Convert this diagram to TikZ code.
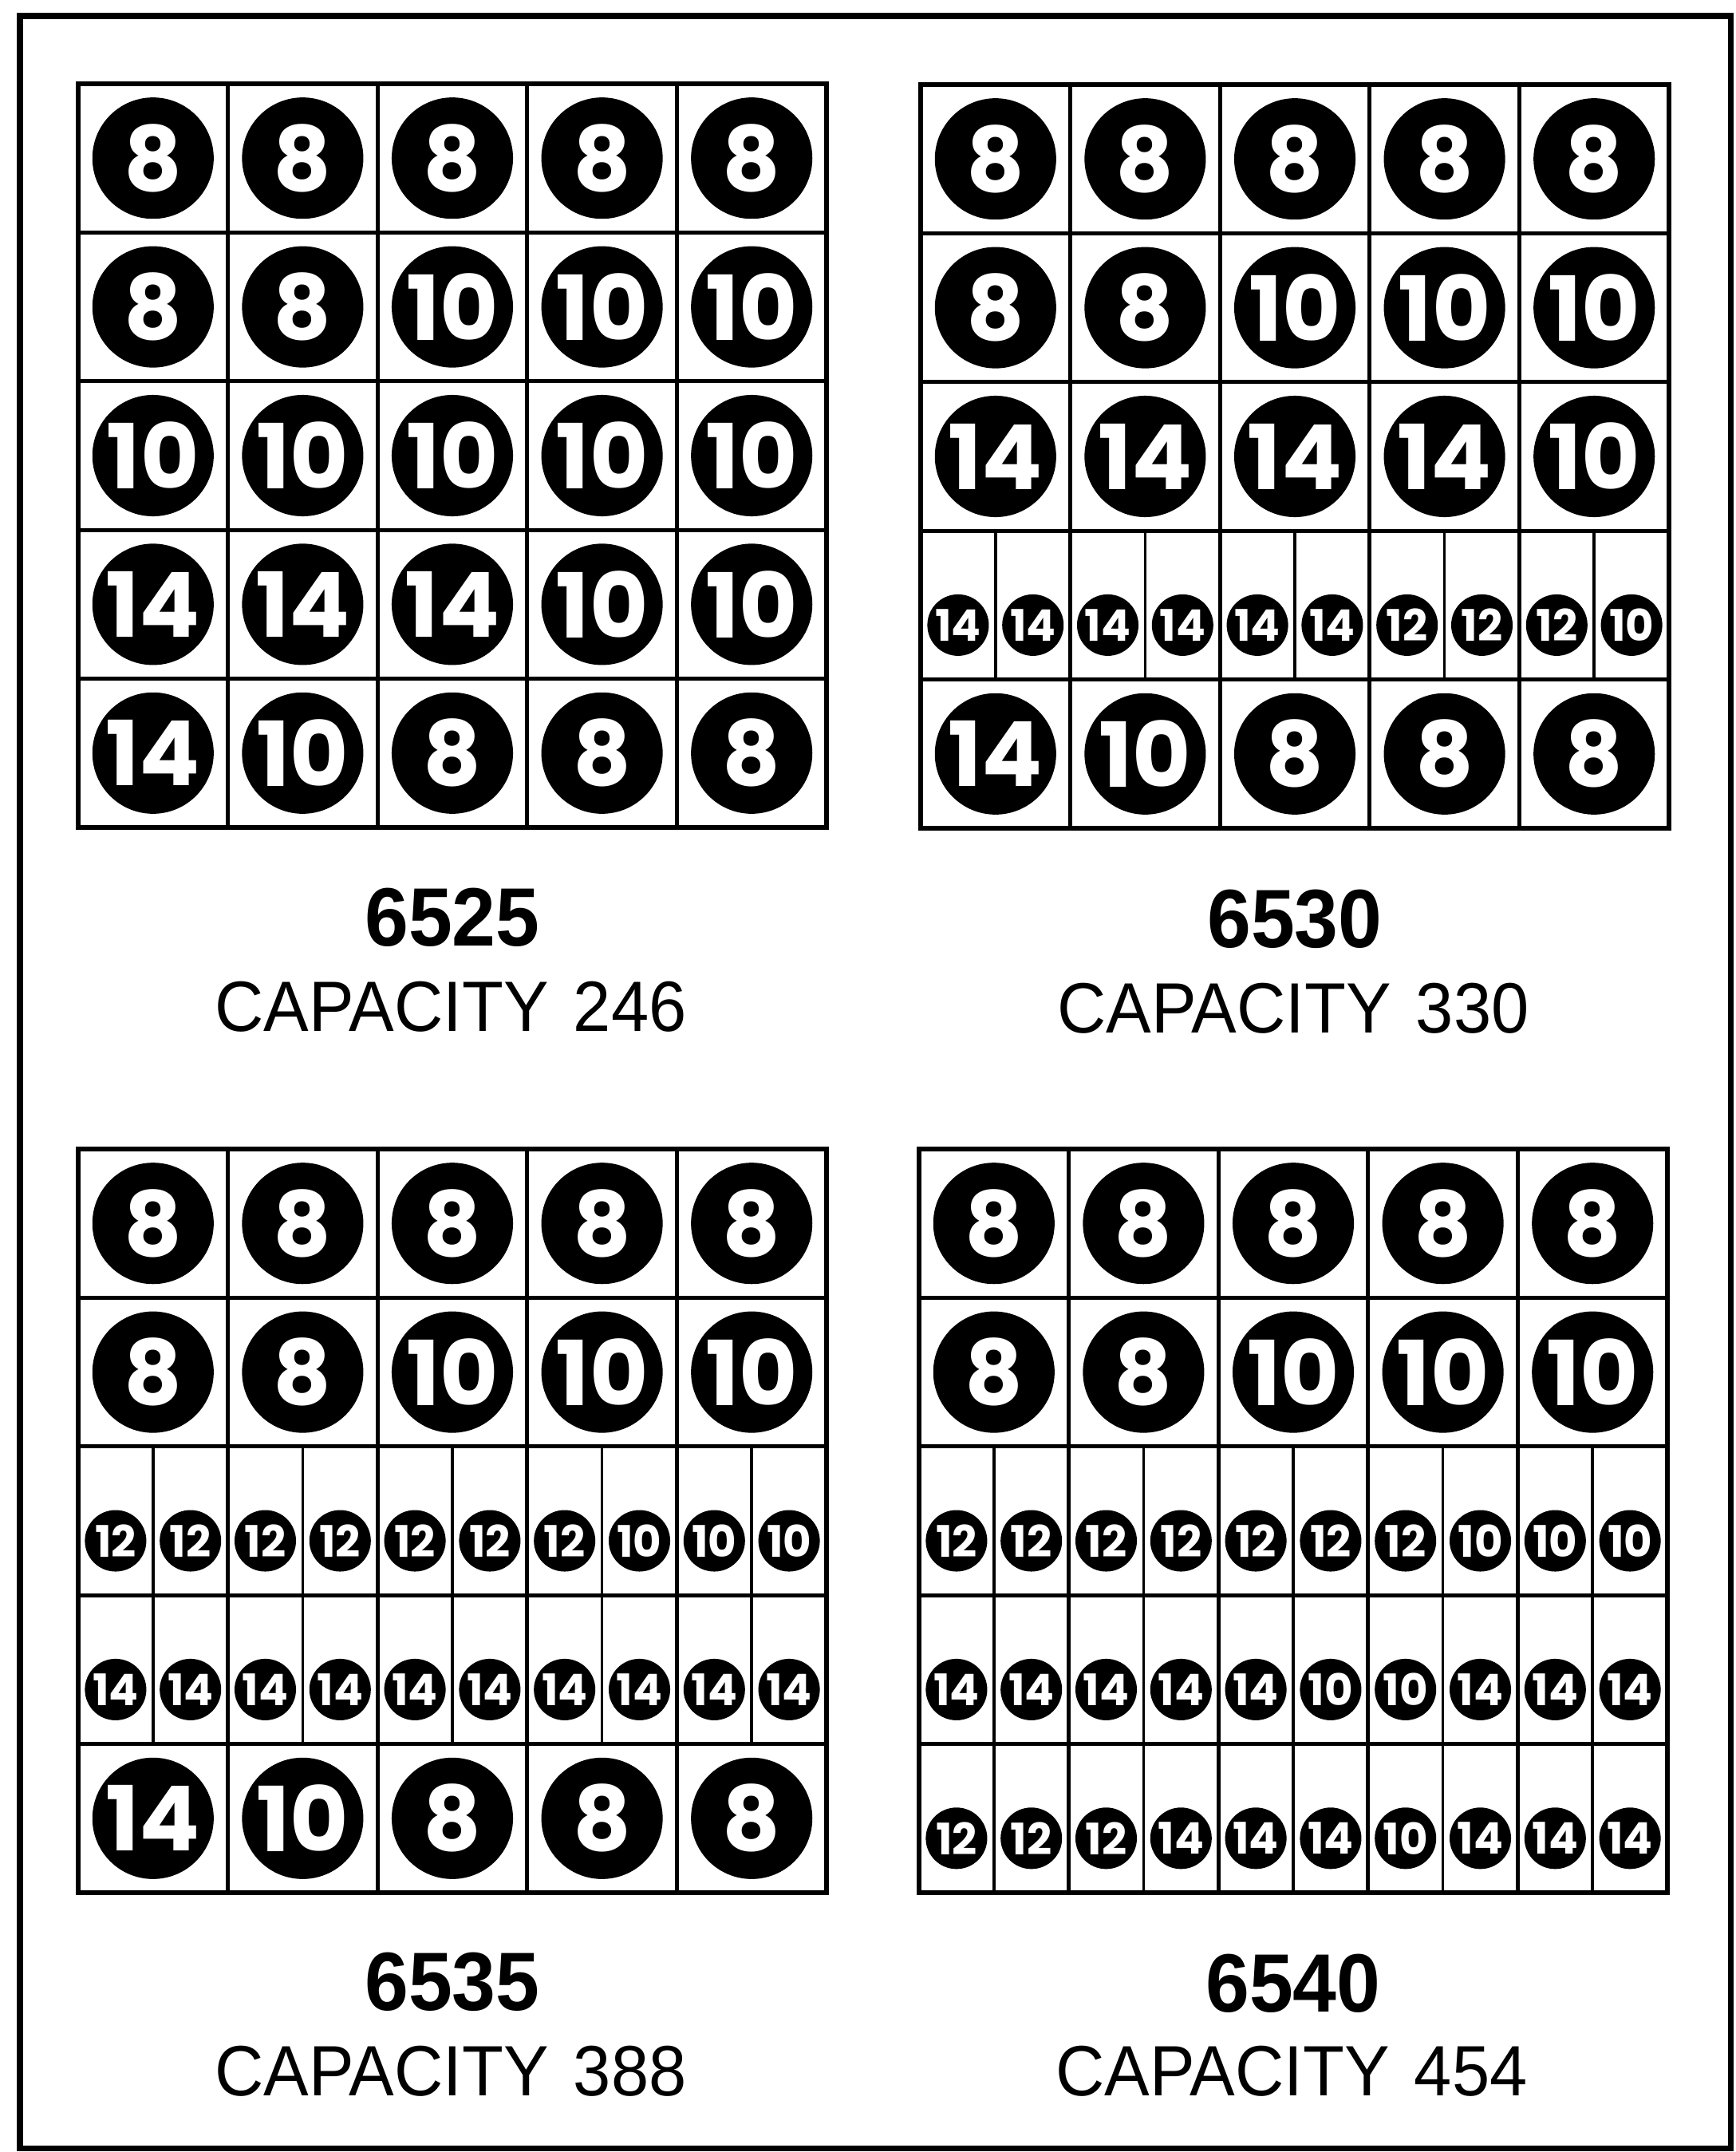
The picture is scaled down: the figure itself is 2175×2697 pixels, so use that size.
\documentclass[tikz,border=0pt]{standalone}
\usepackage{fontspec}
\newfontfamily\ballfont{Poppins}
\newfontfamily\labelfont{Liberation Sans}[FakeStretch=0.95]
\newcommand\bincw{187.6}
\newcommand\binch{186.4}
% #1 x, #2 y of the panel
\newcommand\binpanel[2]{%
  \foreach \k in {1,...,4} {
    \draw[gridline] ({#1+\k*\bincw},#2) -- ++(0,{5*\binch});
    \draw[gridline] (#1,{#2+\k*\binch}) -- ++({5*\bincw},0);
  }
  \draw[panelframe] (#1,#2) rectangle ++({5*\bincw},{5*\binch});}
% #1 name, #2 x, #3 y, #4 row, #5 sizes
\newcommand\bigrow[5]{%
  \foreach \val [count=\col] in {#5}
    \node[ball] (#1-\col) at ({#2+(\col-0.5)*\bincw},{#3+(#4-0.5)*\binch}) {\val};}
\newcommand\smallrow[5]{%
  \foreach \col in {1,...,5}
    \draw[divider] ({#2+(\col-0.5)*\bincw},{#3+(#4-1)*\binch}) -- ++(0,\binch);
  \foreach \val [count=\col] in {#5}
    \node[smallball] (#1-\col) at ({#2+(\col-0.5)*\bincw/2},{#3+(#4-0.5)*\binch+25}) {\val};}
\begin{document}
\begin{tikzpicture}[
  x=0.01cm, y=-0.01cm,
  pageframe/.style={line width=2pt},
  panelframe/.style={line width=1.9pt},
  gridline/.style={line width=1.4pt},
  divider/.style={line width=1pt},
  ball/.style={circle, fill=black, text=white, inner sep=0pt, minimum size=1.52cm,
    font=\ballfont\bfseries\fontsize{32}{32}\selectfont},
  smallball/.style={ball, minimum size=0.77cm,
    font=\ballfont\bfseries\fontsize{15.5}{15.5}\selectfont},
  modelno/.style={inner sep=0pt, font=\labelfont\bfseries\fontsize{29.5}{30}\selectfont},
  capacity/.style={inner sep=0pt, font=\labelfont\fontsize{25.4}{26}\selectfont}
]
\useasboundingbox (0,0) rectangle (2175,2697);
\draw[pageframe] (25,20) rectangle (2169,2692);

% 6525
\binpanel{98}{105}
\bigrow{a1}{98}{105}{1}{8,8,8,8,8}
\bigrow{a2}{98}{105}{2}{8,8,10,10,10}
\bigrow{a3}{98}{105}{3}{10,10,10,10,10}
\bigrow{a4}{98}{105}{4}{14,14,14,10,10}
\bigrow{a5}{98}{105}{5}{14,10,8,8,8}
\node[modelno] (a-model) at (567,1150) {6525};
\node[capacity] (a-cap) at (565,1262) {CAPACITY\hspace{0.35em}246};

% 6530
\binpanel{1154}{106}
\bigrow{b1}{1154}{106}{1}{8,8,8,8,8}
\bigrow{b2}{1154}{106}{2}{8,8,10,10,10}
\bigrow{b3}{1154}{106}{3}{14,14,14,14,10}
\smallrow{b4}{1154}{106}{4}{14,14,14,14,14,14,12,12,12,10}
\bigrow{b5}{1154}{106}{5}{14,10,8,8,8}
\node[modelno] (b-model) at (1623,1152) {6530};
\node[capacity] (b-cap) at (1621,1264) {CAPACITY\hspace{0.35em}330};

% 6535
\binpanel{98}{1440}
\bigrow{c1}{98}{1440}{1}{8,8,8,8,8}
\bigrow{c2}{98}{1440}{2}{8,8,10,10,10}
\smallrow{c3}{98}{1440}{3}{12,12,12,12,12,12,12,10,10,10}
\smallrow{c4}{98}{1440}{4}{14,14,14,14,14,14,14,14,14,14}
\bigrow{c5}{98}{1440}{5}{14,10,8,8,8}
\node[modelno] (c-model) at (567,2484) {6535};
\node[capacity] (c-cap) at (565,2596) {CAPACITY\hspace{0.35em}388};

% 6540
\binpanel{1152}{1440}
\bigrow{d1}{1152}{1440}{1}{8,8,8,8,8}
\bigrow{d2}{1152}{1440}{2}{8,8,10,10,10}
\smallrow{d3}{1152}{1440}{3}{12,12,12,12,12,12,12,10,10,10}
\smallrow{d4}{1152}{1440}{4}{14,14,14,14,14,10,10,14,14,14}
\smallrow{d5}{1152}{1440}{5}{12,12,12,14,14,14,10,14,14,14}
\node[modelno] (d-model) at (1621,2486) {6540};
\node[capacity] (d-cap) at (1619,2596) {CAPACITY\hspace{0.35em}454};
\end{tikzpicture}
\end{document}
